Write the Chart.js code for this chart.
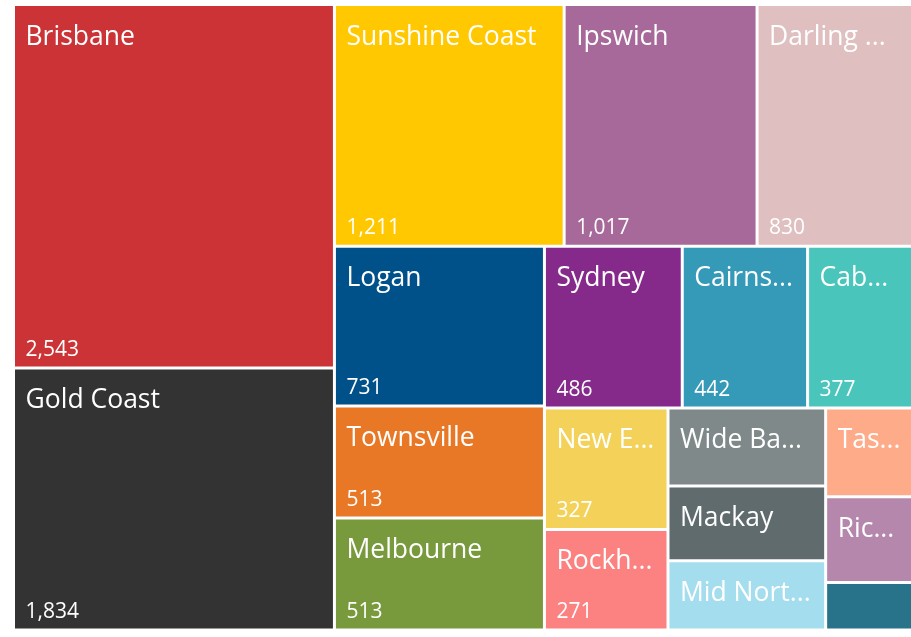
<!DOCTYPE html>
<html>
<head>
<meta charset="utf-8">
<script src="https://cdn.jsdelivr.net/npm/chart.js@4.4.1/dist/chart.umd.min.js"></script>
<style>
    html, body { margin: 0; padding: 0; background: #ffffff; overflow: hidden; }
    /* el treemap se sale un poco por la derecha, como en el original */
    #wrap { width: 916px; height: 637px; }
</style>
</head>
<body>
<div id="wrap"><canvas id="treemapChart"></canvas></div>
<script>
// Datos del treemap (ordenados de mayor a menor)
var regions = ['Brisbane', 'Gold Coast', 'Sunshine Coast', 'Ipswich', 'Darling Downs', 'Logan',
    'Townsville', 'Melbourne', 'Sydney', 'Cairns and Hinterland', 'Caboolture', 'New England',
    'Rockhampton', 'Wide Bay-Burnett', 'Mackay', 'Mid North Coast', 'Tasmania', 'Richmond', 'Other'];
var totals = [2543, 1834, 1211, 1017, 830, 731, 513, 513, 486, 442, 377, 327, 271, 268, 257, 238, 172, 166, 92];
var tileColors = ['#CB3336', '#333333', '#FFC800', '#A66999', '#DFBFBF', '#00508A',
    '#E97826', '#789A3D', '#852A8B', '#3599B8', '#4AC5BB', '#F4D25A',
    '#FB8281', '#7F898A', '#5F6B6D', '#A4DDEE', '#FDAB89', '#B687AC', '#28738A'];

// Squarified layout (same rule as d3, golden ratio)
function squarify(values, width, height) {
    var ratio = (1 + Math.sqrt(5)) / 2;
    var cells = [];
    var x0 = 0, y0 = 0, x1 = width, y1 = height;
    var remaining = values.reduce(function(a, b) { return a + b; }, 0);
    var i0 = 0, n = values.length;
    while (i0 < n) {
        var dx = x1 - x0, dy = y1 - y0;
        var i1 = i0;
        var sum = values[i1++];
        var minV = sum, maxV = sum;
        var alpha = Math.max(dy / dx, dx / dy) / (remaining * ratio);
        var beta = sum * sum * alpha;
        var minRatio = Math.max(maxV / beta, beta / minV);
        for (; i1 < n; i1++) {
            var v = values[i1];
            sum += v;
            if (v < minV) minV = v;
            if (v > maxV) maxV = v;
            beta = sum * sum * alpha;
            var newRatio = Math.max(maxV / beta, beta / minV);
            if (newRatio > minRatio) { sum -= v; break; }
            minRatio = newRatio;
        }
        var k, w, h;
        if (dx < dy) {
            h = dy * sum / remaining;
            var cx = x0;
            for (k = i0; k < i1; k++) {
                w = dx * values[k] / sum;
                cells[k] = { x0: cx, y0: y0, x1: cx + w, y1: y0 + h };
                cx += w;
            }
            y0 += h;
        } else {
            w = dx * sum / remaining;
            var cy = y0;
            for (k = i0; k < i1; k++) {
                h = dy * values[k] / sum;
                cells[k] = { x0: x0, y0: cy, x1: x0 + w, y1: cy + h };
                cy += h;
            }
            x0 += w;
        }
        remaining -= sum;
        i0 = i1;
    }
    // pasar a fracciones 0..1 para las escalas
    return cells.map(function(c) {
        return { x0: c.x0 / width, x1: c.x1 / width, y0: c.y0 / height, y1: c.y1 / height };
    });
}

var GAP = 1.5;

class TreemapController extends Chart.DatasetController {
    parse() {}
    update(mode) {
        var meta = this._cachedMeta;
        this.updateElements(meta.data, 0, meta.data.length, mode);
    }
    updateElements(rects, start, count, mode) {
        var area = this.chart.chartArea;
        if (!area) return;
        var meta = this._cachedMeta;
        var xScale = meta.xScale, yScale = meta.yScale;
        var cells = squarify(this.getDataset().data, area.right - area.left, area.bottom - area.top);
        for (var i = start; i < start + count; i++) {
            var c = cells[i];
            var left = xScale.getPixelForValue(c.x0) + GAP;
            var right = xScale.getPixelForValue(c.x1) - GAP;
            var top = yScale.getPixelForValue(c.y0) + GAP;
            var bottom = yScale.getPixelForValue(c.y1) - GAP;
            this.updateElement(rects[i], i, {
                x: (left + right) / 2,
                y: top,
                base: bottom,
                width: right - left,
                height: bottom - top,
                horizontal: false,
                inflateAmount: 0,
                borderSkipped: { top: false, bottom: false, left: false, right: false },
                options: this.resolveDataElementOptions(i, mode)
            }, mode);
        }
    }
}
TreemapController.id = 'treemap';
TreemapController.defaults = { datasetElementType: false, dataElementType: 'bar' };
Chart.register(TreemapController);

function fitText(ctx, text, maxWidth) {
    if (ctx.measureText(text).width <= maxWidth) return text;
    var t = text;
    while (t.length > 1 && ctx.measureText(t + '...').width > maxWidth) {
        t = t.slice(0, -1);
    }
    return t + '...';
}

// Etiquetas: nombre arriba, valor abajo
var tileLabels = {
    id: 'tileLabels',
    afterDatasetsDraw: function(chart) {
        var ctx = chart.ctx;
        var meta = chart.getDatasetMeta(0);
        ctx.save();
        ctx.fillStyle = '#ffffff';
        ctx.textAlign = 'left';
        ctx.textBaseline = 'alphabetic';
        meta.data.forEach(function(rect, i) {
            var p = rect.getProps(['x', 'y', 'base', 'width'], true);
            var left = p.x - p.width / 2;
            var w = p.width, h = p.base - p.y;
            if (h < 50 || w < 40) return;
            ctx.font = '26.5px "Open Sans", sans-serif';
            ctx.fillText(fitText(ctx, regions[i], w - 22), left + 10.5, p.y + 38.5);
            if (h >= 92) {
                ctx.font = '21px "Open Sans", sans-serif';
                ctx.fillText(totals[i].toLocaleString('en-US'), left + 10.5, p.base - 10.5);
            }
        });
        ctx.restore();
    }
};

var ctx = document.getElementById('treemapChart').getContext('2d');
new Chart(ctx, {
    type: 'treemap',
    data: {
        labels: regions,
        datasets: [{
            label: 'Total',
            data: totals,
            backgroundColor: tileColors,
            borderWidth: 0
        }]
    },
    options: {
        responsive: true,
        maintainAspectRatio: false,
        animation: false,
        layout: { padding: { left: 13.5, top: 4.5, right: 1.5, bottom: 7 } },
        scales: {
            x: { type: 'linear', axis: 'x', display: false, min: 0, max: 1 },
            y: { type: 'linear', axis: 'y', display: false, min: 0, max: 1, reverse: true }
        },
        plugins: {
            legend: { display: false },
            tooltip: { enabled: false }
        }
    },
    plugins: [tileLabels]
});
</script>
</body>
</html>
